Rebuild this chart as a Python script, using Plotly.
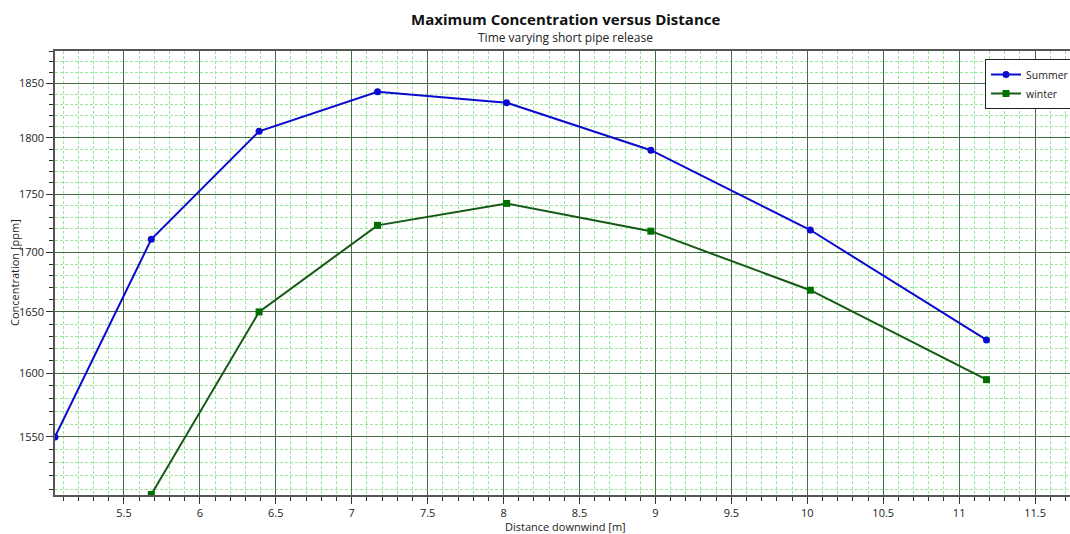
import plotly.graph_objects as go

# Data
summer_x = [5.046, 5.68, 6.39, 7.17, 8.02, 8.97, 10.02, 11.18]
summer_y = [1550, 1711, 1806, 1842, 1832, 1789, 1719, 1627]
winter_x = [5.68, 6.39, 7.17, 8.02, 8.97, 10.02, 11.18]
winter_y = [1506, 1650, 1723, 1742, 1718, 1668, 1595]

y_major = [1550, 1600, 1650, 1700, 1750, 1800, 1850]
y_minor = [v for v in range(1510, 1890, 10) if v % 50 != 0]
x_major = [5.5, 6, 6.5, 7, 7.5, 8, 8.5, 9, 9.5, 10, 10.5, 11, 11.5]
x_major_text = ["5.5", "6", "6.5", "7", "7.5", "8", "8.5", "9", "9.5", "10", "10.5", "11", "11.5"]

FONT = "Open Sans"
MAJOR_GRID = "#456f45"
MINOR_GRID = "#98e698"

fig = go.Figure()
fig.add_trace(go.Scatter(
    x=summer_x, y=summer_y, name="Summer", mode="lines+markers",
    line=dict(color="#0a0ad0", width=2),
    marker=dict(symbol="circle", size=7, color="#0a0ad0"),
))
fig.add_trace(go.Scatter(
    x=winter_x, y=winter_y, name="winter", mode="lines+markers",
    line=dict(color="#145a14", width=2),
    marker=dict(symbol="square", size=7, color="#007000"),
))

fig.update_layout(
    width=1070, height=534,
    margin=dict(l=55, r=0, t=51, b=39, autoexpand=False),
    paper_bgcolor="white", plot_bgcolor="white",
    font=dict(family=FONT, size=11, color="#222"),
    showlegend=True,
    legend=dict(
        x=(985 - 55) / 1015, y=(495 - 59) / 444, xanchor="left", yanchor="top",
        bgcolor="white", bordercolor="#222", borderwidth=1,
        font=dict(family=FONT, size=10.5, color="#222"),
        itemwidth=30, tracegroupgap=0,
    ),
    annotations=[
        dict(text="<b>Maximum Concentration versus Distance</b>", xref="paper", yref="paper",
             x=0.503, y=(495 - 19) / 444, xanchor="center", yanchor="middle", showarrow=False,
             font=dict(family=FONT, size=15, color="#111")),
        dict(text="Time varying short pipe release", xref="paper", yref="paper",
             x=0.503, y=(495 - 38) / 444, xanchor="center", yanchor="middle", showarrow=False,
             font=dict(family=FONT, size=12, color="#222")),
        dict(text="Distance downwind [m]", xref="paper", yref="paper",
             x=0.503, y=-(526 - 495) / 444, xanchor="center", yanchor="middle", showarrow=False,
             font=dict(family=FONT, size=11, color="#222")),
        dict(text="Concentration [ppm]", xref="paper", yref="paper", textangle=-90,
             x=-(55 - 14) / 1015, y=0.5, xanchor="center", yanchor="middle", showarrow=False,
             font=dict(family=FONT, size=11, color="#222")),
    ],
)

fig.update_xaxes(
    automargin=False,
    range=[5.046, 11.73],
    tickmode="array", tickvals=x_major, ticktext=x_major_text,
    ticks="outside", ticklen=7, tickcolor="#333", tickwidth=1,
    showline=True, linecolor="#555", linewidth=1.5, mirror=True,
    showgrid=True, gridcolor=MAJOR_GRID, gridwidth=1.4,
    zeroline=False,
    minor=dict(dtick=0.1, tick0=5.0, ticks="outside", ticklen=4, tickcolor="#333",
               showgrid=True, gridcolor=MINOR_GRID, gridwidth=1, griddash="3px,2px"),
    tickfont=dict(family=FONT, size=11, color="#222"),
)
fig.update_yaxes(
    automargin=False,
    type="log",
    range=[3.17771, 3.27416],
    tickmode="array", tickvals=y_major, ticktext=[str(v) for v in y_major],
    ticks="outside", ticklen=7, tickcolor="#333", tickwidth=1,
    showline=True, linecolor="#555", linewidth=1.5,
    showgrid=True, gridcolor=MAJOR_GRID, gridwidth=1.4,
    zeroline=False,
    minor=dict(tickmode="array", tickvals=y_minor, ticks="outside", ticklen=4, tickcolor="#333",
               showgrid=True, gridcolor=MINOR_GRID, gridwidth=1, griddash="3px,2px"),
    tickfont=dict(family=FONT, size=11, color="#222"),
)

fig.write_html(
    "out.html",
    config={"displayModeBar": False},
    post_script="document.body.style.margin='0';document.body.style.overflow='hidden';",
)
